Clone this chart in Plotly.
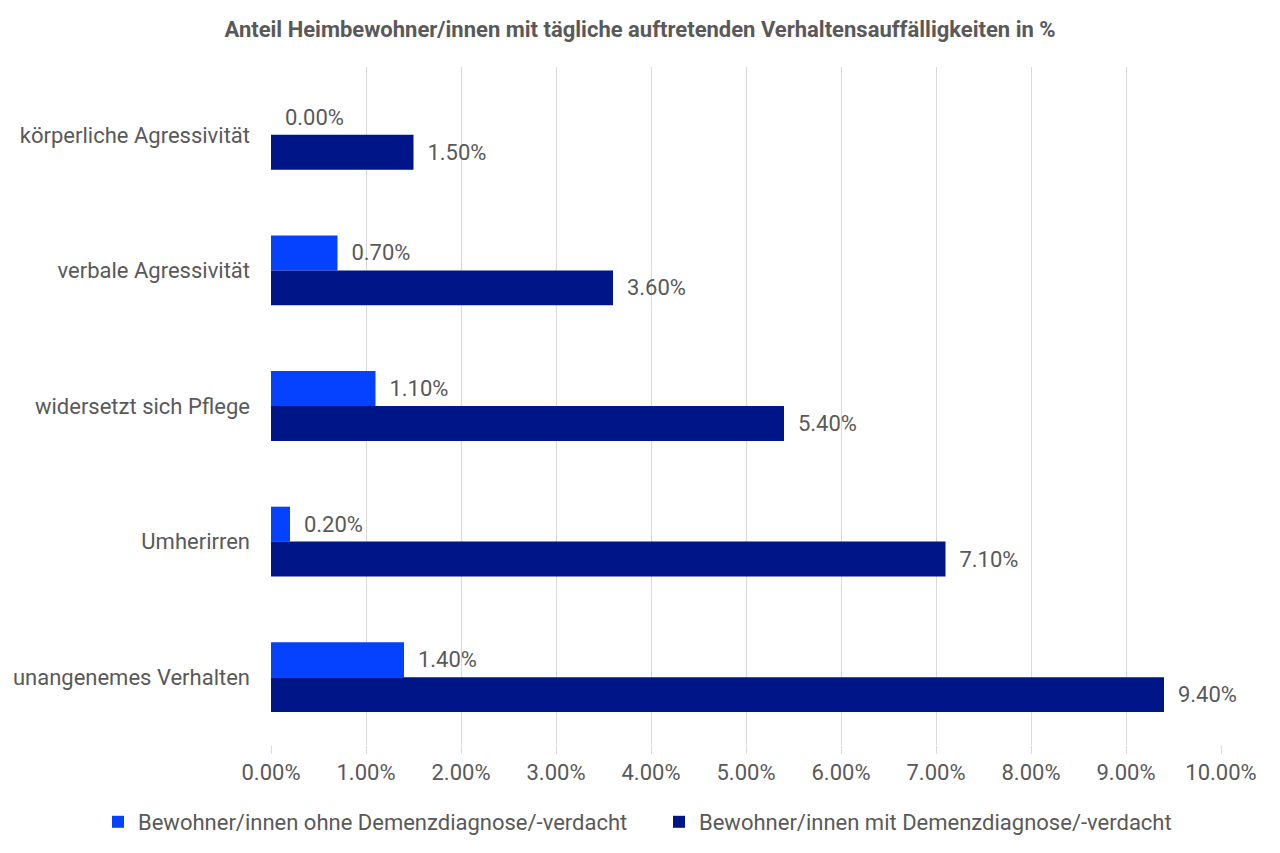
import plotly.graph_objects as go

categories = ["körperliche Agressivität", "verbale Agressivität", "widersetzt sich Pflege",
              "Umherirren", "unangenemes Verhalten"]
ohne = [0.0, 0.7, 1.1, 0.2, 1.4]
mit = [1.5, 3.6, 5.4, 7.1, 9.4]
series_names = ["Bewohner/innen ohne Demenzdiagnose/-verdacht",
                "Bewohner/innen mit Demenzdiagnose/-verdacht"]
tick_vals = [0, 1, 2, 3, 4, 5, 6, 7, 8, 9, 10]
tick_text = ["%.2f%%" % v for v in tick_vals]
title = "Anteil Heimbewohner/innen mit tägliche auftretenden Verhaltensauffälligkeiten in %"

grey = "#595959"
font = "Roboto"
fs = 22

fig = go.Figure()
fig.add_trace(go.Bar(y=categories, x=ohne, orientation="h", name=series_names[0],
                     marker=dict(color="#0442FF", line=dict(width=0)),
                     texttemplate="\u00a0\u00a0%{x:.2f}%", textposition="outside",
                     textfont=dict(family=font, size=fs, color=grey), cliponaxis=False))
fig.add_trace(go.Bar(y=categories, x=mit, orientation="h", name=series_names[1],
                     marker=dict(color="#001588", line=dict(width=0)),
                     texttemplate="\u00a0\u00a0%{x:.2f}%", textposition="outside",
                     textfont=dict(family=font, size=fs, color=grey), cliponaxis=False))

fig.update_layout(
    width=1280, height=853,
    paper_bgcolor="white", plot_bgcolor="white",
    barmode="group", bargap=0.485, bargroupgap=0,
    margin=dict(l=271, r=59, t=67, b=108, autoexpand=False),
    font=dict(family=font, color=grey, size=fs),
    title=dict(text="<b>" + title + "</b>", x=0.5, xanchor="center", y=0.966, yanchor="middle",
               xref="container", yref="container",
               font=dict(family=font, size=fs, color=grey)),
    showlegend=True,
    legend=dict(orientation="h", x=(98 - 271) / 950, xanchor="left",
                y=(745 - 822) / 678, yanchor="middle",
                entrywidth=516, entrywidthmode="pixels",
                font=dict(family=font, size=fs, color=grey), traceorder="normal"),
)
fig.update_xaxes(range=[0, 10], tickvals=tick_vals, ticktext=tick_text,
                 showgrid=True, gridcolor="#d9d9d9", gridwidth=1, zeroline=False,
                 ticks="outside", ticklen=8, tickcolor="#d9d9d9",
                 tickfont=dict(family=font, size=fs, color=grey), showline=False)
fig.update_yaxes(autorange="reversed", showgrid=False, showline=False, ticks="",
                 ticklabelstandoff=20,
                 tickfont=dict(family=font, size=fs, color=grey))

fig.write_html("out.html")
